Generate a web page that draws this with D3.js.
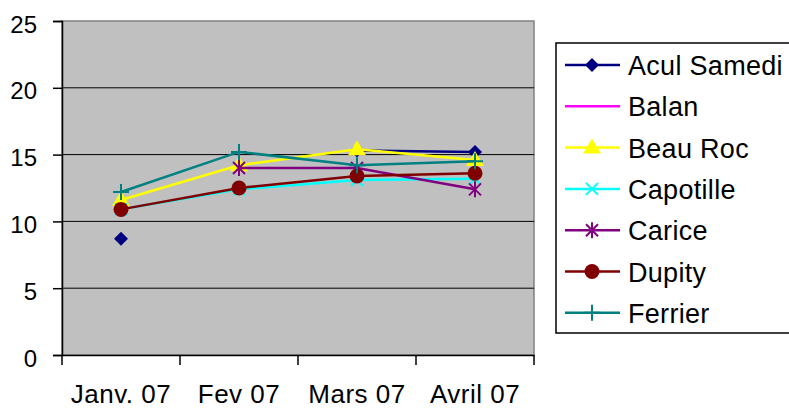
<!DOCTYPE html>
<html>
<head>
<meta charset="utf-8">
<script src="https://cdn.jsdelivr.net/npm/d3@7"></script>
<style>
  body { margin: 0; background: #fff; }
  text { font-family: "Liberation Sans", Arial, sans-serif; }
</style>
</head>
<body>
<div id="chart"></div>
<script>
// Data
let months = ["Janv. 07", "Fev 07", "Mars 07", "Avril 07"];
let seriesNames = ["Acul Samedi", "Balan", "Beau Roc", "Capotille", "Carice", "Dupity", "Ferrier"];
let aculSamedi = [8.7, null, 15.3, 15.2];
let balan = [null, null, null, null];
let beauRoc = [11.6, 14.2, 15.4, 14.6];
let capotille = [10.9, 12.4, 13.1, 13.2];
let carice = [null, 14.0, 14.0, 12.4];
let dupity = [10.9, 12.5, 13.4, 13.6];
let ferrier = [12.2, 15.2, 14.2, 14.5];
let yTicks = [0, 5, 10, 15, 20, 25];

let seriesValues = [aculSamedi, balan, beauRoc, capotille, carice, dupity, ferrier];
let seriesColors = ["#000080", "#ff00ff", "#ffff00", "#00ffff", "#800080", "#800000", "#008080"];
let seriesMarkers = ["diamond", "none", "triangle", "x", "star", "circle", "plus"];

let width = 789, height = 412;
let plot = { left: 62, right: 534, top: 21, bottom: 355 };

let svg = d3.select("#chart").append("svg")
    .attr("width", width)
    .attr("height", height);

let x = d3.scaleBand()
    .domain(months)
    .range([plot.left, plot.right]);

let y = d3.scaleLinear()
    .domain([0, 25])
    .range([plot.bottom, plot.top]);

// Plot background
svg.append("rect")
    .attr("x", plot.left)
    .attr("y", plot.top)
    .attr("width", plot.right - plot.left)
    .attr("height", plot.bottom - plot.top)
    .attr("fill", "#c0c0c0")
    .attr("stroke", "#808080")
    .attr("stroke-width", 1.5);

// Gridlines
svg.selectAll(".grid")
    .data(yTicks.filter(d => d > 0 && d < 25))
    .enter().append("line")
    .attr("class", "grid")
    .attr("x1", plot.left)
    .attr("x2", plot.right)
    .attr("y1", d => y(d))
    .attr("y2", d => y(d))
    .attr("stroke", "#000")
    .attr("stroke-width", 1);

// Y axis
let yAxis = d3.axisLeft(y)
    .tickValues(yTicks)
    .tickSize(9)
    .tickPadding(16);

let gy = svg.append("g")
    .attr("transform", `translate(${plot.left},0)`)
    .call(yAxis);
gy.select(".domain").attr("stroke", "#000").attr("stroke-width", 1.5);
gy.selectAll(".tick line").attr("stroke", "#000").attr("stroke-width", 1.5);
gy.selectAll("text")
    .attr("font-size", 24)
    .attr("dy", "0.46em")
    .attr("fill", "#000")
    .attr("font-family", "Liberation Sans, Arial, sans-serif");

// X axis
let xAxis = d3.axisBottom(x)
    .tickSize(0)
    .tickPadding(0);

let gx = svg.append("g")
    .attr("transform", `translate(0,${plot.bottom})`)
    .call(xAxis);
gx.select(".domain").attr("stroke", "#000").attr("stroke-width", 1.5);
gx.selectAll("text")
    .attr("y", 48)
    .attr("dy", 0)
    .attr("font-size", 26)
    .attr("letter-spacing", 0.5)
    .attr("fill", "#000")
    .attr("font-family", "Liberation Sans, Arial, sans-serif");

// X ticks between categories
let bounds = months.map(m => x(m)).concat([x(months[months.length - 1]) + x.bandwidth()]);
gx.selectAll(".sep")
    .data(bounds)
    .enter().append("line")
    .attr("class", "sep")
    .attr("x1", d => d)
    .attr("x2", d => d)
    .attr("y1", 0)
    .attr("y2", 10)
    .attr("stroke", "#000")
    .attr("stroke-width", 1.5);

function drawMarker(g, type, color) {
    if (type === "diamond") {
        g.append("path").attr("d", "M0,-7L7,0L0,7L-7,0Z").attr("fill", color);
    } else if (type === "triangle") {
        g.append("path").attr("d", "M0,-9L9,6L-9,6Z").attr("fill", color);
    } else if (type === "circle") {
        g.append("circle").attr("r", 7.5).attr("fill", color);
    } else if (type === "x") {
        g.append("path").attr("d", "M-6,-6L6,6M-6,6L6,-6")
            .attr("stroke", color).attr("stroke-width", 2).attr("fill", "none");
    } else if (type === "star") {
        g.append("path").attr("d", "M-6,-6L6,6M-6,6L6,-6M0,-8L0,8")
            .attr("stroke", color).attr("stroke-width", 2).attr("fill", "none");
    } else if (type === "plus") {
        g.append("path").attr("d", "M-8,0L8,0M0,-8L0,8")
            .attr("stroke", color).attr("stroke-width", 2).attr("fill", "none");
    }
}

let line = d3.line()
    .defined(d => d.v != null)
    .x(d => x(d.m) + x.bandwidth() / 2)
    .y(d => y(d.v));

// Series
seriesNames.forEach(function(name, i) {
    let pts = months.map((m, j) => ({ m: m, v: seriesValues[i][j] }));
    let g = svg.append("g").attr("class", "series");
    g.append("path")
        .datum(pts)
        .attr("d", line)
        .attr("fill", "none")
        .attr("stroke", seriesColors[i])
        .attr("stroke-width", 2.5);
    pts.filter(d => d.v != null).forEach(function(d) {
        let mg = g.append("g")
            .attr("transform", `translate(${x(d.m) + x.bandwidth() / 2},${y(d.v)})`);
        drawMarker(mg, seriesMarkers[i], seriesColors[i]);
    });
});

// Legend
let legend = svg.append("g").attr("class", "legend");
legend.append("rect")
    .attr("x", 556)
    .attr("y", 43)
    .attr("width", 240)
    .attr("height", 290)
    .attr("fill", "#fff")
    .attr("stroke", "#000")
    .attr("stroke-width", 1.5);

seriesNames.forEach(function(name, i) {
    let cy = 65 + i * 41.3;
    let item = legend.append("g");
    item.append("line")
        .attr("x1", 565).attr("x2", 620)
        .attr("y1", cy).attr("y2", cy)
        .attr("stroke", seriesColors[i])
        .attr("stroke-width", 2.5);
    let mg = item.append("g").attr("transform", `translate(592,${cy})`);
    drawMarker(mg, seriesMarkers[i], seriesColors[i]);
    item.append("text")
        .attr("x", 628)
        .attr("y", cy + 10)
        .attr("font-size", 27)
        .attr("letter-spacing", 0.3)
        .attr("fill", "#000")
        .text(name);
});
</script>
</body>
</html>
